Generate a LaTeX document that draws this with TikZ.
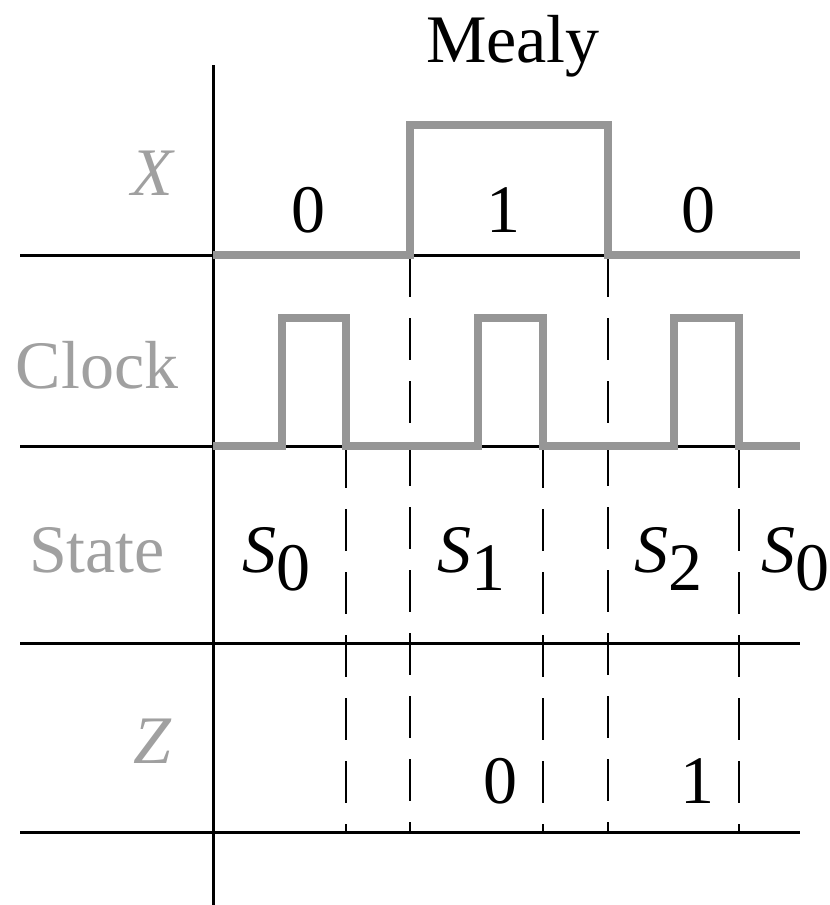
\documentclass[tikz,border=0pt]{standalone}
\usepackage{fontspec}
\setmainfont{Liberation Serif}
\definecolor{wave}{RGB}{150,150,150}
\definecolor{lbl}{RGB}{160,160,160}
\tikzset{
  axis/.style={line width=3pt, black},
  sig/.style={line width=7.5pt, wave, line join=miter},
  dsh/.style={line width=2.2pt, black, dash pattern=on 42pt off 21pt},
  txt/.style={anchor=base, inner sep=0pt, font=\fontsize{68}{80}\selectfont},
  rowlbl/.style={txt, text=lbl},
}
\newcommand{\Ssub}[1]{\textit{S}\raisebox{-18pt}{#1}}
\begin{document}
\begin{tikzpicture}[x=1pt,y=-1pt]
\useasboundingbox (0,0) rectangle (830,905);
% grid lines
\coordinate (vt) at (213,65); \coordinate (vb) at (213,905);
\draw[axis] (vt) -- (vb);
\foreach \yy/\nm in {255/h1,446/h2,643/h3,832/h4}{
  \coordinate (\nm l) at (20,\yy); \coordinate (\nm r) at (800,\yy);
  \draw[axis] (\nm l) -- (\nm r);
}
% dashed lines
\foreach \xx/\ys in {410/255,608/255,346/446,543/446,739/446}{
  \coordinate (dt\xx) at (\xx,\ys); \coordinate (db\xx) at (\xx,832);
  \draw[dsh] (dt\xx) -- (db\xx);
}
% X waveform
\draw[sig] (213,255) -- (410,255) -- (410,125) -- (608,125) -- (608,255) -- (800,255);
% Clock waveform
\draw[sig] (213,446) -- (282,446) -- (282,318) -- (346,318) -- (346,446)
  -- (478,446) -- (478,318) -- (543,318) -- (543,446)
  -- (674,446) -- (674,318) -- (739,318) -- (739,446) -- (800,446);
% title
\node[txt] (title) at (513,62) {Mealy};
% row labels
\node[rowlbl] (lx) at (153,195) {\textit{X}};
\node[rowlbl] (lclk) at (97,388) {Clock};
\node[rowlbl] (lst) at (97,572) {State};
\node[rowlbl] (lz) at (153,763) {\textit{Z}};
% X values
\node[txt] (x0) at (308,232) {0};
\node[txt] (x1) at (503,232) {1};
\node[txt] (x2) at (698,232) {0};
% states
\node[txt] (s0) at (276,572) {\Ssub{0}};
\node[txt] (s1) at (471,572) {\Ssub{1}};
\node[txt] (s2) at (668,572) {\Ssub{2}};
\node[txt] (s3) at (795,572) {\Ssub{0}};
% Z values
\node[txt] (z0) at (500,803) {0};
\node[txt] (z1) at (697,803) {1};
\end{tikzpicture}
\end{document}
